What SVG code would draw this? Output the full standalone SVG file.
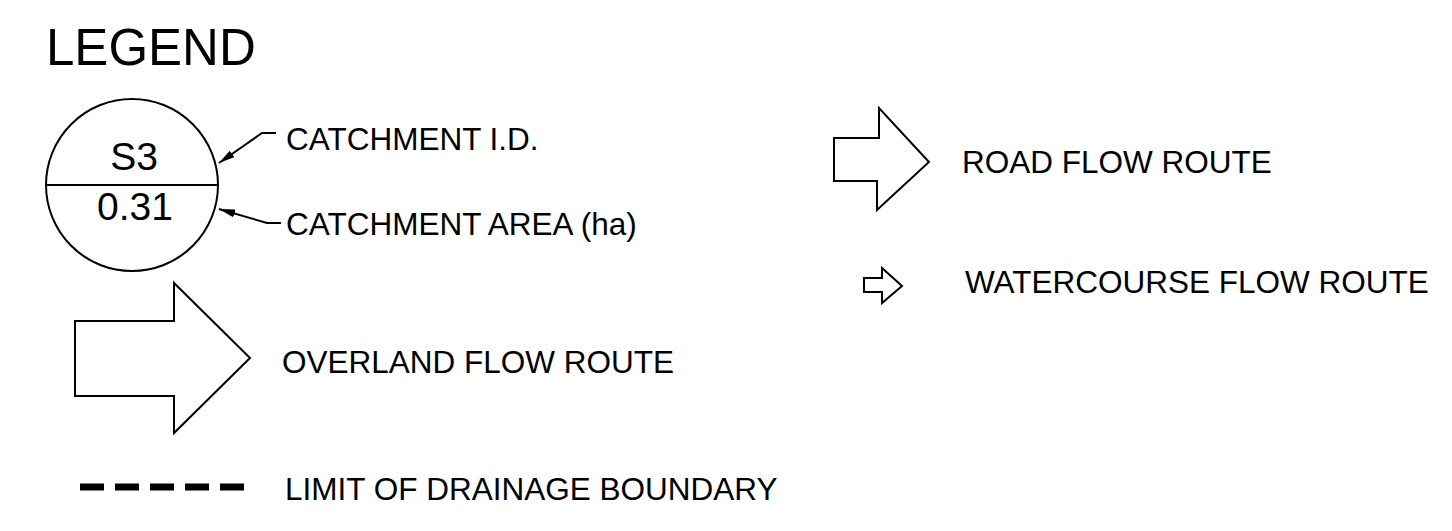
<svg xmlns="http://www.w3.org/2000/svg" width="1452" height="531" viewBox="0 0 1452 531">
  <style>
    .lbl { font-family: "Liberation Sans", Arial, sans-serif; fill: #000; font-size: 31.5px; }
    .shape { fill: #fff; stroke: #000; stroke-width: 2; stroke-linejoin: miter; }
    .lead { fill: none; stroke: #000; stroke-width: 2; }
  </style>
  <defs>
    <marker id="tipLg" viewBox="0 0 16 8" refX="16" refY="4" markerWidth="16" markerHeight="8" markerUnits="userSpaceOnUse" orient="auto">
      <path d="M0,0 L16,4 L0,8 Z" fill="#000"/>
    </marker>
  </defs>
  <rect width="1452" height="531" fill="#fff"/>

  <text class="lbl" x="46" y="65" style="font-size:51px">LEGEND</text>

  <g id="catchment-symbol">
    <circle class="shape" cx="132" cy="185" r="86"/>
    <line x1="46" y1="185" x2="218" y2="185" stroke="#000" stroke-width="2"/>
    <text class="lbl" x="134" y="170" text-anchor="middle" style="font-size:39px">S3</text>
    <text class="lbl" x="135" y="220" text-anchor="middle" style="font-size:39px">0.31</text>
  </g>

  <g id="connectors">
    <path class="lead" d="M276,133 L262,133 L219,163" marker-end="url(#tipLg)"/>
    <path class="lead" d="M281,223 L267,223 L219,209" marker-end="url(#tipLg)"/>
  </g>

  <g id="label-id">
    <text class="lbl" x="286" y="150">CATCHMENT I.D.</text>
  </g>
  <g id="label-area">
    <text class="lbl" x="286" y="235">CATCHMENT AREA (ha)</text>
  </g>

  <g id="overland-flow">
    <polygon class="shape" points="75,321 174,321 174,283 250,358 174,433 174,396 75,396"/>
    <text class="lbl" x="282" y="373">OVERLAND FLOW ROUTE</text>
  </g>

  <g id="road-flow">
    <polygon class="shape" stroke-width="2.5" points="834,138 879,138 879,108 929,162 877,210 877,181 834,181"/>
    <text class="lbl" x="962" y="173">ROAD FLOW ROUTE</text>
  </g>

  <g id="watercourse-flow">
    <polygon class="shape" points="864,278 882,278 882,268 902,286 882,303 882,292 864,292"/>
    <text class="lbl" x="965" y="293">WATERCOURSE FLOW ROUTE</text>
  </g>

  <g id="drainage-boundary">
    <line x1="80" y1="487" x2="245" y2="487" stroke="#000" stroke-width="7" stroke-dasharray="24 11"/>
    <text class="lbl" x="285" y="500">LIMIT OF DRAINAGE BOUNDARY</text>
  </g>
</svg>
